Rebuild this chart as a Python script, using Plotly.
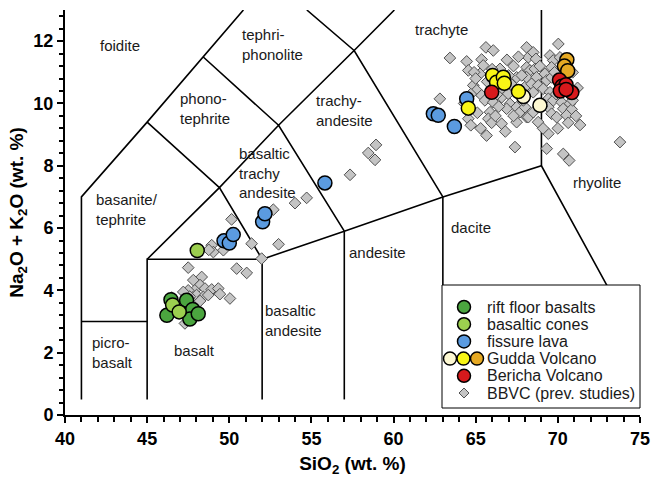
import plotly.graph_objects as go

# ---- sample data: SiO2 (wt.%) vs Na2O+K2O (wt.%) ----
rift_si = [46.2, 46.45, 47.4, 47.77, 47.6, 48.11]
rift_alk = [3.2, 3.7, 3.68, 3.39, 3.08, 3.25]

cones_si = [46.55, 46.95, 48.05]
cones_alk = [3.53, 3.31, 5.28]

fissure_si = [49.68, 50.0, 50.24, 52.03, 52.17, 55.82, 62.42, 62.72, 63.7, 64.45]
fissure_alk = [5.59, 5.52, 5.79, 6.2, 6.46, 7.45, 9.67, 9.62, 9.26, 10.15]

gudda_pale_si = [67.9, 68.91]
gudda_pale_alk = [10.22, 9.94]

gudda_yellow_si = [64.55, 66.03, 66.27, 66.68, 66.74, 67.6]
gudda_yellow_alk = [9.85, 10.9, 10.68, 10.84, 10.65, 10.38]

gudda_orange_si = [70.55, 70.4, 70.6]
gudda_orange_alk = [11.4, 11.2, 11.05]

bericha_si = [65.97, 70.1, 70.25, 70.5, 70.15, 70.85, 70.5]
bericha_alk = [10.36, 10.75, 10.55, 10.6, 10.4, 10.35, 10.45]

bbvc_si = [
    # mafic group
    50.14, 51.36, 48.93, 49.03, 48.75, 49.64, 47.5, 50.45, 51.06, 48.32,
    47.81, 48.22, 48.52, 48.93, 49.33, 49.43, 50.04, 47.9, 47.5, 47.2,
    48.01, 48.42, 48.72, 48.22, 47.6, 46.49, 47.3, 51.97, 53.0,
    # intermediate group
    52.68, 54.0, 54.71, 57.35, 58.46, 58.93, 58.87,
    # felsic group
    63.43, 62.82, 65.62, 66.07, 64.45, 64.55, 65.36, 65.46, 65.26, 66.48,
    64.85, 65.06, 65.36, 65.56, 66.07, 66.58, 66.98, 67.08, 67.49, 66.88,
    67.69, 65.87, 65.77, 65.97, 66.58, 67.49, 64.55, 65.66, 67.39, 67.49,
    68.1, 68.2, 68.1, 68.1, 68.0, 68.1,
    70.03, 68.5, 68.67, 69.52, 69.72, 69.62, 70.13, 68.3, 68.6, 68.1,
    68.7, 69.21, 69.32, 69.62, 68.4, 68.81, 69.11, 69.52, 68.5, 69.42,
    69.72, 70.23, 70.73, 70.33, 70.84, 69.42, 69.62, 69.93, 70.53, 70.63,
    71.35, 68.2, 68.5, 69.42, 69.32, 70.33, 70.69, 73.78,
    64.9, 65.0, 65.7, 66.3, 66.6, 67.2, 67.0, 67.8, 67.3, 66.9,
    67.6, 66.2, 66.4, 67.3, 64.3, 64.7, 65.3, 65.1, 66.8, 67.9,
    69.0, 69.9, 70.0, 70.9, 71.1, 69.8, 68.9, 70.9, 71.2, 68.8,
    69.1, 66.0, 64.7,
]
bbvc_alk = [
    6.28, 5.5, 5.45, 5.23, 5.3, 5.29, 4.73, 4.7, 4.56, 4.43,
    4.33, 4.17, 4.06, 4.03, 4.06, 3.88, 3.74, 4.0, 4.0, 3.95,
    3.85, 3.79, 3.85, 3.66, 3.8, 3.77, 2.94, 5.02, 5.48,
    6.59, 6.8, 6.97, 7.71, 8.41, 8.67, 8.19,
    11.46, 10.15, 11.8, 11.7, 11.35, 11.06, 11.41, 11.22, 10.95, 11.11,
    10.58, 10.42, 10.26, 10.1, 10.04, 10.2, 10.31, 9.99, 9.88, 9.83,
    9.72, 9.72, 9.51, 9.38, 9.35, 9.4, 9.51, 8.97, 8.6, 10.84,
    11.8, 11.48, 11.16, 10.58, 9.88, 9.56,
    11.91, 11.64, 11.43, 11.54, 11.38, 11.16, 11.48, 11.06, 11.11, 10.84,
    10.84, 10.95, 10.74, 10.84, 10.63, 10.58, 10.47, 10.36, 10.36, 10.15,
    10.1, 10.04, 9.99, 9.83, 9.81, 9.88, 9.67, 9.56, 9.62, 9.38,
    9.31, 9.56, 9.72, 9.03, 8.55, 8.38, 8.17, 8.76,
    11.0, 10.8, 10.7, 10.3, 10.5, 10.6, 10.9, 10.9, 11.2, 11.4,
    11.5, 9.6, 9.9, 9.6, 10.0, 9.3, 9.2, 9.7, 9.1, 10.1,
    9.9, 10.3, 9.2, 10.1, 9.6, 11.0, 11.2, 11.0, 10.5, 9.4,
    9.2, 11.1, 10.3,
]

# ---- TAS classification boundaries (Le Bas et al., 1986), clipped at 13 wt.% ----
tas_lines = [
    [(41, 0.5), (41, 7), (45, 9.4), (48.4, 11.5), (50.86, 13)],
    [(41, 3), (45, 3)],
    [(45, 0.5), (45, 5), (52, 5)],
    [(45, 5), (49.4, 7.3), (52, 5)],
    [(52, 0.5), (52, 5), (57, 5.9), (63, 7), (69, 8), (75, 2.22)],
    [(57, 0.5), (57, 5.9)],
    [(63, 0.5), (63, 7)],
    [(69, 8), (69, 13)],
    [(45, 9.4), (49.4, 7.3), (53, 9.3), (57, 5.9)],
    [(48.4, 11.5), (53, 9.3), (57.6, 11.7), (63, 7)],
    [(54.72, 13), (57.6, 11.7), (60.05, 13)],
]

field_names = ["foidite", "tephri-<br>phonolite", "phono-<br>tephrite", "trachyte",
               "trachy-<br>andesite", "basaltic<br>trachy<br>andesite",
               "basanite/<br>tephrite", "rhyolite", "dacite", "andesite",
               "basaltic<br>andesite", "basalt", "picro-<br>basalt"]
field_x = [43.35, 52.6, 48.5, 62.9, 57.0, 52.3, 43.8, 72.4, 64.7, 59.05, 53.9, 47.9, 42.9]
field_y = [11.85, 11.9, 9.85, 12.38, 9.78, 7.76, 6.6, 7.47, 6.03, 5.22, 3.04, 2.08, 2.02]

# legend entries
legend_labels = ["rift floor basalts", "basaltic cones", "fissure lava",
                 "Gudda Volcano", "Bericha Volcano", "BBVC (prev. studies)"]

FONT = "Liberation Sans, Arial, sans-serif"
C_RIFT, C_CONE, C_FISS = "#4ba53f", "#9ccf4f", "#5b9be0"
C_PALE, C_YEL, C_ORA = "#fdf8d2", "#f8f516", "#e6a923"
C_BER, C_BBVC = "#d7191c", "#c4c4c4"

fig = go.Figure()

lx, ly = [], []
for seg in tas_lines:
    for px, py in seg:
        lx.append(px)
        ly.append(py)
    lx.append(None)
    ly.append(None)
fig.add_trace(go.Scatter(x=lx, y=ly, mode="lines", line=dict(color="black", width=1.6),
                         showlegend=False, hoverinfo="skip"))

circ = dict(size=14, line=dict(color="black", width=1.5))

fig.add_trace(go.Scatter(x=bbvc_si, y=bbvc_alk, mode="markers", name="BBVC (prev. studies)",
                         marker=dict(symbol="diamond", size=9, color=C_BBVC,
                                     line=dict(color="#505050", width=1))))
fig.add_trace(go.Scatter(x=rift_si, y=rift_alk, mode="markers", name="rift floor basalts",
                         marker=dict(color=C_RIFT, **circ)))
fig.add_trace(go.Scatter(x=cones_si, y=cones_alk, mode="markers", name="basaltic cones",
                         marker=dict(color=C_CONE, **circ)))
fig.add_trace(go.Scatter(x=fissure_si, y=fissure_alk, mode="markers", name="fissure lava",
                         marker=dict(color=C_FISS, **circ)))
fig.add_trace(go.Scatter(x=gudda_pale_si, y=gudda_pale_alk, mode="markers", name="Gudda Volcano",
                         marker=dict(color=C_PALE, **circ)))
fig.add_trace(go.Scatter(x=gudda_yellow_si, y=gudda_yellow_alk, mode="markers", name="Gudda Volcano",
                         marker=dict(color=C_YEL, **circ)))
fig.add_trace(go.Scatter(x=gudda_orange_si, y=gudda_orange_alk, mode="markers", name="Gudda Volcano",
                         marker=dict(color=C_ORA, **circ)))
fig.add_trace(go.Scatter(x=bericha_si, y=bericha_alk, mode="markers", name="Bericha Volcano",
                         marker=dict(color=C_BER, **circ)))

for name, fx, fy in zip(field_names, field_x, field_y):
    fig.add_annotation(x=fx, y=fy, text=name, showarrow=False,
                       font=dict(family=FONT, size=15, color="#1a1a1a"), align="left")

# ---- hand-built legend box (pixel geometry of a 651x477 canvas) ----
L, B, W, H = 65, 62, 575, 405
def px_x(p):
    return (p - L) / W
def px_y(p):
    return (477 - B - p) / H

shapes = [dict(type="rect", xref="paper", yref="paper", x0=px_x(442), x1=px_x(640),
               y0=px_y(408), y1=px_y(285), line=dict(color="black", width=1),
               fillcolor="white", layer="above")]

row_y = [307.0 + 17.2 * i for i in range(6)]
swatches = [[(464, C_RIFT)], [(464, C_CONE)], [(464, C_FISS)],
            [(450, C_PALE), (463.5, C_YEL), (477, C_ORA)], [(464, C_BER)], None]
r = 6.5
for ry, sw in zip(row_y, swatches):
    if sw is None:
        shapes.append(dict(type="path", xref="paper", yref="paper", xsizemode="pixel",
                           ysizemode="pixel", xanchor=px_x(464), yanchor=px_y(ry),
                           path="M 0,-5 L 5,0 L 0,5 L -5,0 Z", fillcolor=C_BBVC,
                           line=dict(color="#505050", width=1), layer="above"))
        continue
    for cx, col in sw:
        shapes.append(dict(type="circle", xref="paper", yref="paper", xsizemode="pixel",
                           ysizemode="pixel", xanchor=px_x(cx), yanchor=px_y(ry),
                           x0=-r, x1=r, y0=-r, y1=r, fillcolor=col,
                           line=dict(color="black", width=1.5), layer="above"))
for ry, lab in zip(row_y, legend_labels):
    fig.add_annotation(xref="paper", yref="paper", x=px_x(485), y=px_y(ry), text=lab,
                       showarrow=False, xanchor="left", yanchor="middle",
                       font=dict(family=FONT, size=16, color="#1a1a1a"))

fig.update_layout(
    width=651, height=477,
    margin=dict(l=L, r=651 - L - W, t=477 - B - H, b=B),
    paper_bgcolor="white", plot_bgcolor="white",
    font=dict(family=FONT, color="black"),
    shapes=shapes,
    showlegend=False,
    xaxis=dict(range=[40, 75], dtick=5, showgrid=False, zeroline=False, automargin=False,
               showline=True, linecolor="black", linewidth=2,
               ticks="outside", ticklen=6, tickwidth=2, tickcolor="black",
               tickfont=dict(family=FONT, size=18, color="black", weight="bold"),
               minor=dict(dtick=1, ticks="outside", ticklen=5, tickwidth=2, tickcolor="black"),
               title=dict(text="<b>SiO<sub>2</sub> (wt. %)</b>",
                          font=dict(family=FONT, size=19, color="black"), standoff=9)),
    yaxis=dict(range=[0, 13], dtick=2, showgrid=False, zeroline=False, automargin=False,
               showline=True, linecolor="black", linewidth=2,
               ticks="outside", ticklen=6, tickwidth=2, tickcolor="black",
               tickfont=dict(family=FONT, size=18, color="black", weight="bold"),
               minor=dict(dtick=0.4, ticks="outside", ticklen=4, tickwidth=2, tickcolor="black"),
               title=dict(text="<b>Na<sub>2</sub>O + K<sub>2</sub>O (wt. %)</b>",
                          font=dict(family=FONT, size=19, color="black"), standoff=5)),
)

fig.write_html("out.html")
